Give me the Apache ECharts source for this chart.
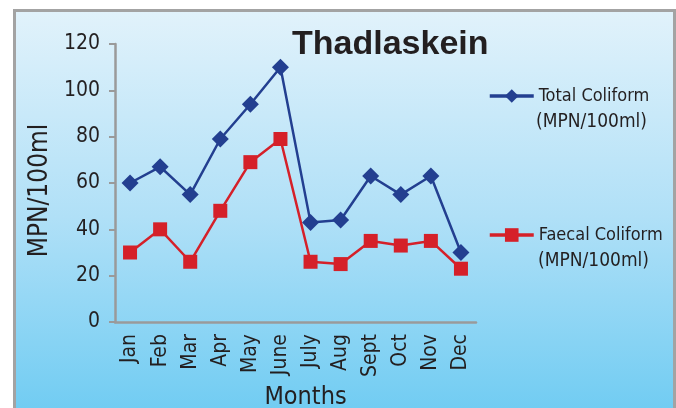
<!DOCTYPE html>
<html>
<head>
<meta charset="utf-8">
<script src="https://cdn.jsdelivr.net/npm/echarts@6/dist/echarts.min.js"></script>
<style>
  html, body { margin: 0; padding: 0; background: #fff; }
  .wrap { position: relative; width: 676px; height: 408px; overflow: hidden; }
  .panel {
    position: absolute; left: 13px; top: 9px; width: 657px; height: 410px;
    border: 3px solid #a3a3a3;
    background: linear-gradient(to bottom, #e1f2fb 0%, #b0e0f7 50%, #6dcbf2 100%);
  }
  #chart { position: absolute; left: 0; top: 0; width: 676px; height: 408px; }
</style>
</head>
<body>
<div class="wrap">
  <div class="panel"></div>
  <div id="chart"></div>
</div>
<script>
// 月份
var months = ['Jan', 'Feb', 'Mar', 'Apr', 'May', 'June', 'July', 'Aug', 'Sept', 'Oct', 'Nov', 'Dec']
// Total Coliform
var totalColiform = [60, 67, 55, 79, 94, 110, 43, 44, 63, 55, 63, 30]
// Faecal Coliform
var faecalColiform = [30, 40, 26, 48, 69, 79, 26, 25, 35, 33, 35, 23]

var narrow = '"DejaVu Sans Condensed", sans-serif'
var blue = '#233f90'
var red = '#d52029'

var chart = echarts.init(document.getElementById('chart'))
chart.setOption({
  backgroundColor: 'transparent',
  animation: false,
  title: {
    text: 'Thadlaskein',
    left: 287,
    top: 23,
    textStyle: { fontFamily: '"Liberation Sans", sans-serif', fontWeight: 'bold', fontSize: 34, color: '#231f20' }
  },
  legend: [
    {
      data: ['Total Coliform'],
      left: 483,
      top: 82,
      itemWidth: 44,
      itemHeight: 17,
      lineStyle: { width: 3.5 },
      textStyle: { fontFamily: narrow, fontSize: 18, color: '#231f20' }
    },
    {
      data: ['Faecal Coliform'],
      left: 483,
      top: 221,
      itemWidth: 44,
      itemHeight: 17,
      lineStyle: { width: 3.5 },
      textStyle: { fontFamily: narrow, fontSize: 18, color: '#231f20' }
    }
  ],
  graphic: [
    { type: 'text', left: 536, top: 113, style: { text: '(MPN/100ml)', fontFamily: narrow, fontSize: 19, fill: '#231f20' } },
    { type: 'text', left: 538, top: 252, style: { text: '(MPN/100ml)', fontFamily: narrow, fontSize: 19, fill: '#231f20' } }
  ],
  grid: { left: 115, right: 200, top: 44, bottom: 86, outerBoundsMode: 'none' },
  xAxis: {
    type: 'category',
    data: months,
    name: 'Months',
    nameLocation: 'middle',
    nameGap: 61,
    nameTextStyle: { fontFamily: narrow, fontSize: 25, color: '#231f20', padding: [0, 0, 0, 20] },
    axisLine: { lineStyle: { color: '#9a9a9a', width: 2.5 } },
    axisTick: { show: false },
    axisLabel: { rotate: 90, margin: 12, fontFamily: narrow, fontSize: 21, color: '#231f20' }
  },
  yAxis: {
    type: 'value',
    min: 0,
    max: 120,
    interval: 20,
    name: 'MPN/100ml',
    nameLocation: 'middle',
    nameGap: 57,
    nameTextStyle: { fontFamily: narrow, fontSize: 26, color: '#231f20', padding: [0, 15, 0, 0] },
    axisLine: { show: true, lineStyle: { color: '#9a9a9a', width: 2.5 } },
    axisTick: { show: true, length: 6, lineStyle: { color: '#9a9a9a', width: 2 } },
    splitLine: { show: false },
    axisLabel: { margin: 15, fontFamily: narrow, fontSize: 21, color: '#231f20' }
  },
  series: [
    {
      name: 'Total Coliform',
      type: 'line',
      data: totalColiform,
      symbol: 'diamond',
      symbolSize: 17,
      lineStyle: { color: blue, width: 2.5 },
      itemStyle: { color: blue }
    },
    {
      name: 'Faecal Coliform',
      type: 'line',
      data: faecalColiform,
      symbol: 'rect',
      symbolSize: 14,
      lineStyle: { color: red, width: 2.5 },
      itemStyle: { color: red }
    }
  ]
})
</script>
</body>
</html>
